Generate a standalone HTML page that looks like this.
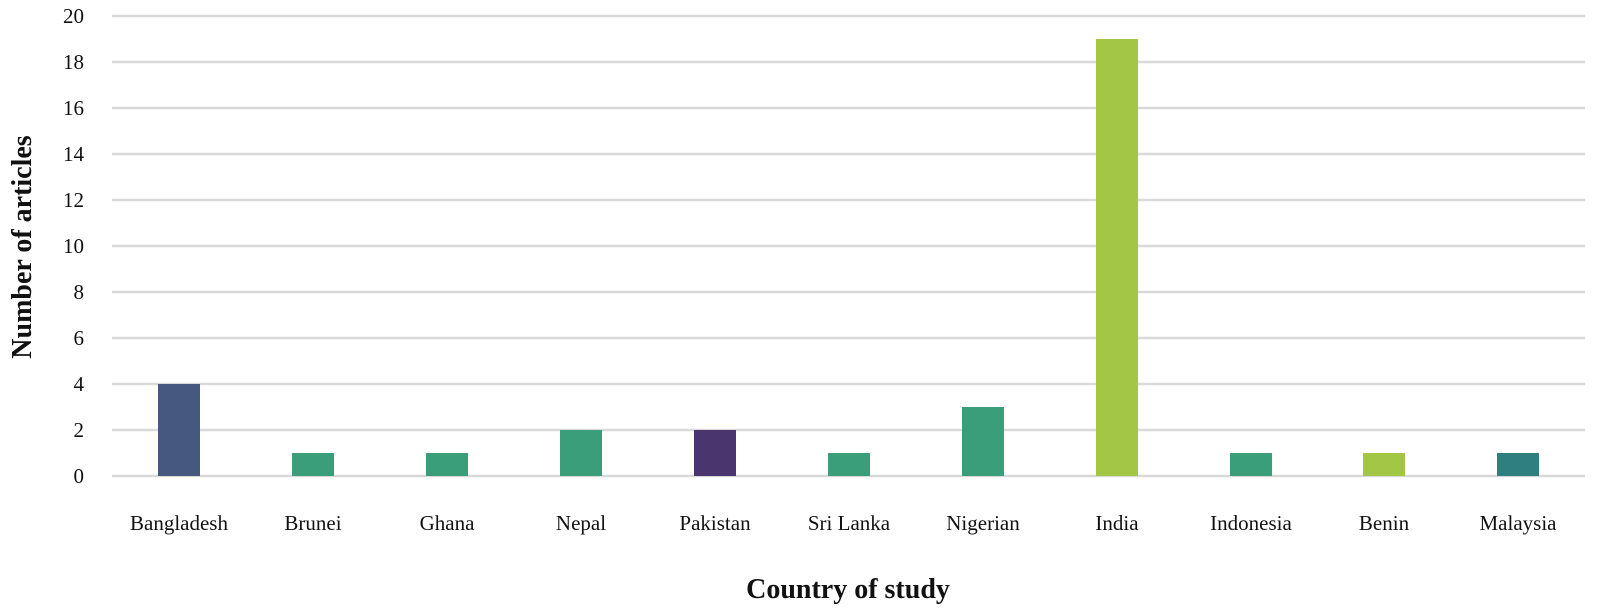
<!DOCTYPE html>
<html><head><meta charset="utf-8"><style>
html,body{margin:0;padding:0;background:#fff;}
svg{display:block;font-family:"Liberation Serif",serif;}
</style></head><body>
<svg width="1600" height="611" viewBox="0 0 1600 611">
<g stroke="#d9d9d9" stroke-width="2.5">
<line x1="112" x2="1585" y1="16" y2="16"/>
<line x1="112" x2="1585" y1="62" y2="62"/>
<line x1="112" x2="1585" y1="108" y2="108"/>
<line x1="112" x2="1585" y1="154" y2="154"/>
<line x1="112" x2="1585" y1="200" y2="200"/>
<line x1="112" x2="1585" y1="246" y2="246"/>
<line x1="112" x2="1585" y1="292" y2="292"/>
<line x1="112" x2="1585" y1="338" y2="338"/>
<line x1="112" x2="1585" y1="384" y2="384"/>
<line x1="112" x2="1585" y1="430" y2="430"/>
<line x1="112" x2="1585" y1="476" y2="476"/>
</g>
<g font-size="21" fill="#111" text-anchor="end">
<text x="84" y="23">20</text><text x="84" y="69">18</text><text x="84" y="115">16</text>
<text x="84" y="161">14</text><text x="84" y="207">12</text><text x="84" y="253">10</text>
<text x="84" y="299">8</text><text x="84" y="345">6</text><text x="84" y="391">4</text>
<text x="84" y="437">2</text><text x="84" y="483">0</text>
</g>
<g>
<rect x="158" y="384" width="42" height="92" fill="#46587f"/>
<rect x="292" y="453" width="42" height="23" fill="#3a9e7b"/>
<rect x="426" y="453" width="42" height="23" fill="#3a9e7b"/>
<rect x="560" y="430" width="42" height="46" fill="#3a9e7b"/>
<rect x="694" y="430" width="42" height="46" fill="#4b356e"/>
<rect x="828" y="453" width="42" height="23" fill="#3a9e7b"/>
<rect x="962" y="407" width="42" height="69" fill="#3a9e7b"/>
<rect x="1096" y="39" width="42" height="437" fill="#a3c644"/>
<rect x="1230" y="453" width="42" height="23" fill="#3a9e7b"/>
<rect x="1363" y="453" width="42" height="23" fill="#a3c644"/>
<rect x="1497" y="453" width="42" height="23" fill="#2e7f7e"/>
</g>
<g font-size="21" fill="#111" text-anchor="middle">
<text x="179" y="530">Bangladesh</text><text x="313" y="530">Brunei</text>
<text x="447" y="530">Ghana</text><text x="581" y="530">Nepal</text>
<text x="715" y="530">Pakistan</text><text x="849" y="530">Sri Lanka</text>
<text x="983" y="530">Nigerian</text><text x="1117" y="530">India</text>
<text x="1251" y="530">Indonesia</text><text x="1384" y="530">Benin</text>
<text x="1518" y="530">Malaysia</text>
</g>
<text x="848" y="598" font-size="28" font-weight="bold" text-anchor="middle" fill="#111">Country of study</text>
<text transform="translate(31,247) rotate(-90)" font-size="28" font-weight="bold" text-anchor="middle" fill="#111">Number of articles</text>
</svg>
</body></html>
